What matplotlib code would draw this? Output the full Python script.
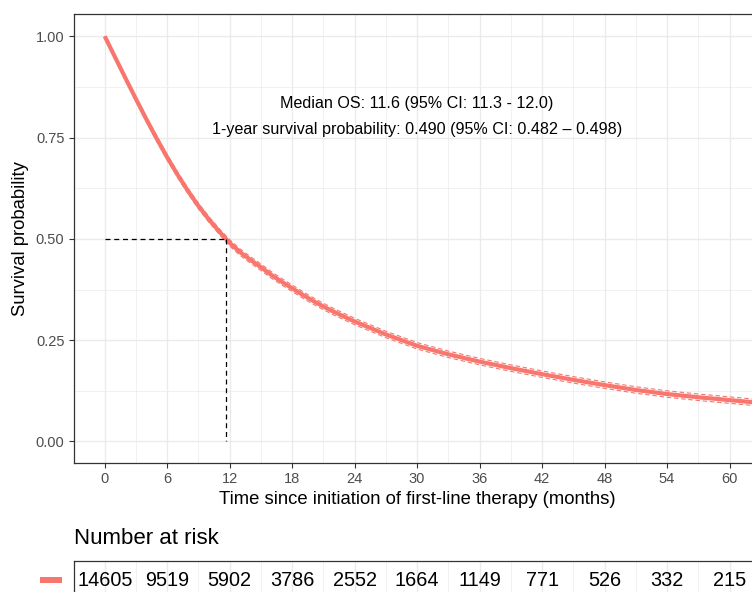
import matplotlib
matplotlib.use("Agg")
import matplotlib.pyplot as plt
from matplotlib.ticker import MultipleLocator
from matplotlib.patches import Rectangle

plt.rcParams['font.family'] = ['Liberation Sans', 'DejaVu Sans']

# ---- data ----
time_months = [0, 1, 2, 3, 4, 5, 6, 7, 8, 9, 10, 11, 12, 13, 14, 15, 16, 17, 18,
               19, 20, 21, 22, 23, 24, 27, 30, 33, 36, 39, 42, 45, 48, 51, 54,
               57, 60, 63, 66]
surv = [1.0, 0.948, 0.896, 0.845, 0.795, 0.747, 0.701, 0.658, 0.618, 0.581,
        0.548, 0.518, 0.490, 0.467, 0.448, 0.430, 0.411, 0.394, 0.378, 0.362,
        0.347, 0.333, 0.320, 0.308, 0.296, 0.264, 0.236, 0.215, 0.197, 0.181,
        0.166, 0.152, 0.139, 0.127, 0.117, 0.109, 0.102, 0.095, 0.089]
surv_upper = [1.0, 0.952, 0.901, 0.851, 0.801, 0.754, 0.708, 0.665, 0.625, 0.588,
              0.555, 0.525, 0.498, 0.475, 0.456, 0.438, 0.419, 0.402, 0.386, 0.370,
              0.355, 0.341, 0.328, 0.316, 0.304, 0.272, 0.244, 0.223, 0.205, 0.189,
              0.174, 0.160, 0.147, 0.135, 0.125, 0.117, 0.110, 0.103, 0.097]
surv_lower = [1.0, 0.944, 0.891, 0.839, 0.789, 0.740, 0.694, 0.651, 0.611, 0.574,
              0.541, 0.511, 0.482, 0.459, 0.440, 0.422, 0.403, 0.386, 0.370, 0.354,
              0.339, 0.325, 0.312, 0.300, 0.288, 0.256, 0.228, 0.207, 0.189, 0.173,
              0.158, 0.144, 0.131, 0.119, 0.109, 0.101, 0.094, 0.087, 0.081]
median_os = 11.6
risk_times = [0, 6, 12, 18, 24, 30, 36, 42, 48, 54, 60]
n_at_risk = [14605, 9519, 5902, 3786, 2552, 1664, 1149, 771, 526, 332, 215]
x_ticks = list(range(0, 61, 6))
y_ticks = [0.0, 0.25, 0.5, 0.75, 1.0]
y_ticklabels = ["0.00", "0.25", "0.50", "0.75", "1.00"]

col = '#F8766D'
W, H = 752, 592
fig = plt.figure(figsize=(W / 100, H / 100), dpi=100)

def box(l, t, r, b):
    return [l / W, 1 - b / H, (r - l) / W, (b - t) / H]

xlim = (-3, 63)
PL, PR = 73.5, 760.8

ax = fig.add_axes(box(PL, 14, PR, 462.5))
ax.set_xlim(*xlim)
ax.set_ylim(-0.052, 1.055)
ax.xaxis.set_major_locator(MultipleLocator(6))
ax.xaxis.set_minor_locator(MultipleLocator(3))
ax.yaxis.set_minor_locator(MultipleLocator(0.125))
ax.set_xticks(x_ticks)
ax.set_yticks(y_ticks)
ax.set_yticklabels(y_ticklabels)
ax.grid(True, which='major', color='#EBEBEB', lw=1.0, zorder=0)
ax.grid(True, which='minor', color='#EBEBEB', lw=0.5, zorder=0)
ax.set_axisbelow(True)
ax.tick_params(which='minor', length=0)
ax.tick_params(which='major', length=3.5, width=0.8, color='#333333',
               labelsize=10.5, labelcolor='#4D4D4D', pad=3)
for s in ax.spines.values():
    s.set_color('#333333')
    s.set_linewidth(0.9)

ax.plot(time_months, surv_upper, color=col, lw=0.8, ls=(0, (4, 2.5)), zorder=3)
ax.plot(time_months, surv_lower, color=col, lw=0.8, ls=(0, (4, 2.5)), zorder=3)
ax.plot(time_months, surv, color=col, lw=3.0, zorder=4, solid_capstyle='butt')

ax.plot([0, median_os], [0.5, 0.5], color='black', lw=0.9, ls=(0, (4, 3)), zorder=5)
ax.plot([median_os, median_os], [0.5, 0], color='black', lw=0.9, ls=(0, (4, 3)), zorder=5)

ax.text(30, 0.833, "Median OS: 11.6 (95% CI: 11.3 - 12.0)", ha='center', va='center',
        fontsize=11.6, color='black')
ax.text(30, 0.769, "1-year survival probability: 0.490 (95% CI: 0.482 \u2013 0.498)",
        ha='center', va='center', fontsize=11.6, color='black')

ax.set_ylabel("Survival probability", fontsize=13.3, labelpad=5)
ax.set_xlabel("Time since initiation of first-line therapy (months)", fontsize=13.3, labelpad=4)

# ---- risk table ----
rt = fig.add_axes(box(PL, 561, PR, 600))
rt.set_xlim(*xlim)
rt.set_ylim(0, 1)
rt.xaxis.set_major_locator(MultipleLocator(6))
rt.xaxis.set_minor_locator(MultipleLocator(3))
rt.grid(True, which='major', axis='x', color='#EBEBEB', lw=1.0)
rt.grid(True, which='minor', axis='x', color='#EBEBEB', lw=0.5)
rt.set_axisbelow(True)
rt.tick_params(which='both', length=0, labelbottom=False, labelleft=False)
rt.set_yticks([])
for s in rt.spines.values():
    s.set_color('#333333')
    s.set_linewidth(0.9)
for t, n in zip(risk_times, n_at_risk):
    rt.text(t, 0.5, str(n), ha='center', va='center', fontsize=14.3, color='black')

fig.text(74 / W, 1 - 539 / H, "Number at risk", ha='left', va='center', fontsize=16)
fig.patches.append(Rectangle((40 / W, 1 - 583 / H), 22 / W, 6 / H,
                             transform=fig.transFigure, facecolor=col, edgecolor='none'))

fig.savefig("out.png", dpi=100)
